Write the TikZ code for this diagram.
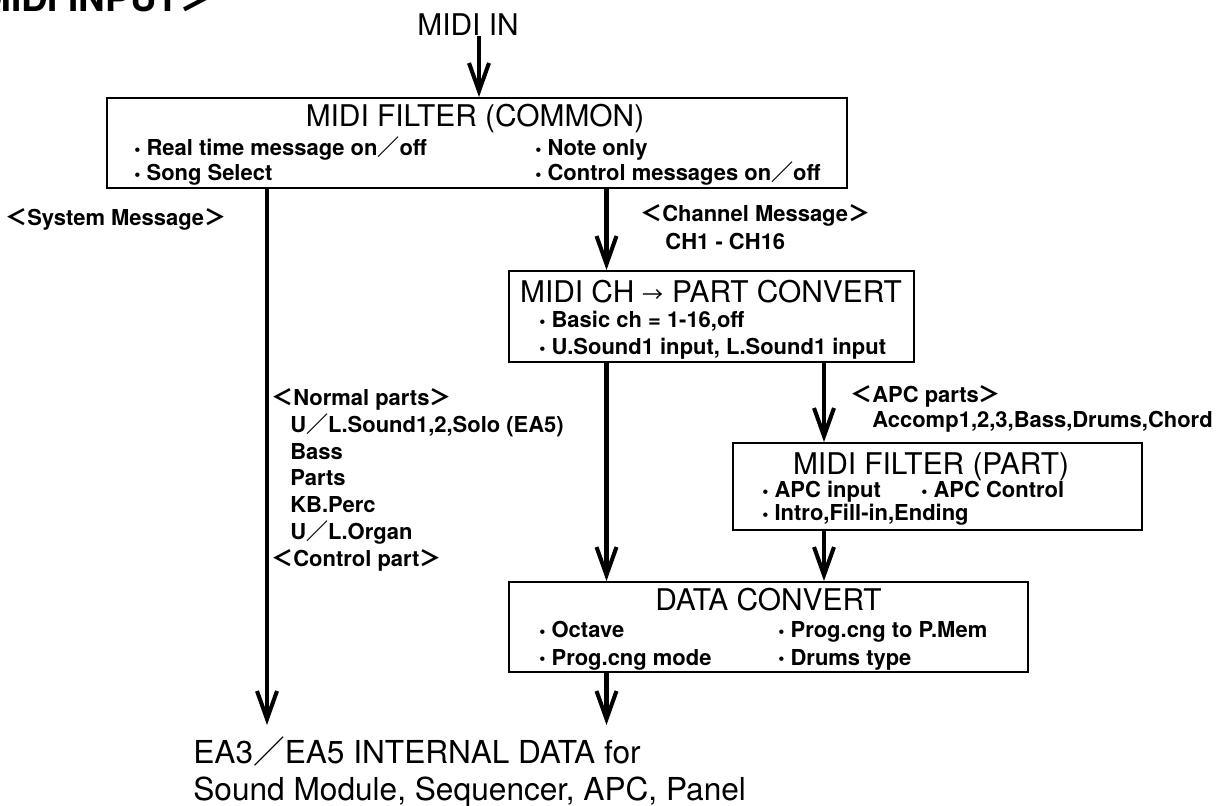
\documentclass[tikz,border=0pt]{standalone}
\usepackage{fontspec}
\setmainfont{TeX Gyre Heros}
\newfontfamily\cjk{Noto Sans CJK JP}
\usetikzlibrary{arrows.meta}
\newcommand{\angled}[1]{{\cjk ＜}#1{\cjk ＞}}
\newcommand{\wsl}{{\cjk ／}}
\newcommand{\bul}{{\fontsize{10}{10}\selectfont\raisebox{0.1ex}{•}}\ }

\begin{document}
\begin{tikzpicture}[
font=\fontsize{12.5}{15.3}\selectfont\bfseries,
block/.style={draw, line width=1.1pt, inner sep=0pt},
head/.style={font=\fontsize{17}{20}\selectfont, inner sep=0pt},
item/.style={anchor=base west, inner sep=0pt},
arrow/.style={-{Straight Barb[length=0.56cm,width=0.4cm]}, line width=2.3pt}
]
\useasboundingbox (0,0) rectangle (24.48,-16.12);

\node[head, font=\fontsize{21}{24}\selectfont\bfseries, anchor=base west] (input) at (-0.4,-0.24) {MIDI INPUT{\cjk ＞}};
\node[head] (midiin) at (9.36,-0.5) {MIDI IN};

\node[block, minimum width=14.8cm, minimum height=1.8cm] (common) at (9.54,-2.86) {};
\node[head] (commonhead) at (9.5,-2.38) {MIDI FILTER (COMMON)};
\node[item] (realtime) at (2.68,-3.12) {\bul Real time message on\wsl off};
\node[item] (songsel) at (2.68,-3.62) {\bul Song Select};
\node[item] (noteonly) at (10.7,-3.12) {\bul Note only};
\node[item] (ctrlmsg) at (10.7,-3.62) {\bul Control messages on\wsl off};

\node[item] (sysmsg) at (0.1,-4.52) {\angled{System Message}};
\node[item] (chmsg) at (12.8,-4.44) {\angled{Channel Message}};
\node[item] (chrange) at (13.3,-5.0) {CH1 - CH16};

\node[block, minimum width=8.1cm, minimum height=1.82cm] (partconv) at (14.23,-6.33) {};
\node[head] (pchead) at (14.22,-5.84) {MIDI CH {\fontsize{12}{12}\selectfont\cjk →} PART CONVERT};
\node[item] (basicch) at (10.78,-6.56) {\bul Basic ch = 1-16,off};
\node[item] (sound1) at (10.78,-7.10) {\bul U.Sound1 input, L.Sound1 input};

\node[anchor=north west, align=left, inner sep=0pt] (normal) at (5.42,-7.76) {\angled{Normal parts}\\\hspace*{0.38cm}U\wsl L.Sound1,2,Solo (EA5)\\\hspace*{0.38cm}Bass\\\hspace*{0.38cm}Parts\\\hspace*{0.38cm}KB.Perc\\\hspace*{0.38cm}U\wsl L.Organ\\\angled{Control part}};

\node[item] (apcparts) at (17.0,-8.06) {\angled{APC parts}};
\node[item] (apclist) at (17.44,-8.56) {Accomp1,2,3,Bass,Drums,Chord};

\node[block, minimum width=8.18cm, minimum height=1.74cm] (filterpart) at (18.75,-9.73) {};
\node[head] (fphead) at (18.62,-9.34) {MIDI FILTER (PART)};
\node[item] (apcin) at (15.24,-9.96) {\bul APC input};
\node[item] (apcctl) at (18.42,-9.96) {\bul APC Control};
\node[item] (intro) at (15.24,-10.42) {\bul Intro,Fill-in,Ending};

\node[block, minimum width=10.38cm, minimum height=1.8cm] (dataconv) at (15.37,-12.54) {};
\node[head] (dchead) at (15.37,-12.0) {DATA CONVERT};
\node[item] (octave) at (10.78,-12.76) {\bul Octave};
\node[item] (pcmode) at (10.78,-13.30) {\bul Prog.cng mode};
\node[item] (pcmem) at (15.56,-12.76) {\bul Prog.cng to P.Mem};
\node[item] (drums) at (15.56,-13.30) {\bul Drums type};

\node[anchor=north west, align=left, inner xsep=0pt, inner ysep=0.22cm, font=\fontsize{18}{21}\selectfont] (intdata) at (3.86,-14.5) {EA3\wsl EA5 INTERNAL DATA for\\Sound Module, Sequencer, APC, Panel};

\coordinate (inx) at (9.58,0);
\coordinate (sysx) at (5.34,0);
\coordinate (chx) at (12.13,0);
\coordinate (apcx) at (16.48,0);

\draw[arrow] (midiin.south -| inx) -- (common.north -| inx);
\draw[arrow] (common.south -| sysx) -- (intdata.north -| sysx);
\draw[arrow] (common.south -| chx) -- (partconv.north -| chx);
\draw[arrow] (partconv.south -| chx) -- (dataconv.north -| chx);
\draw[arrow] (partconv.south -| apcx) -- (filterpart.north -| apcx);
\draw[arrow] (filterpart.south -| apcx) -- (dataconv.north -| apcx);
\draw[arrow] (dataconv.south -| chx) -- (intdata.north -| chx);
\end{tikzpicture}
\end{document}
